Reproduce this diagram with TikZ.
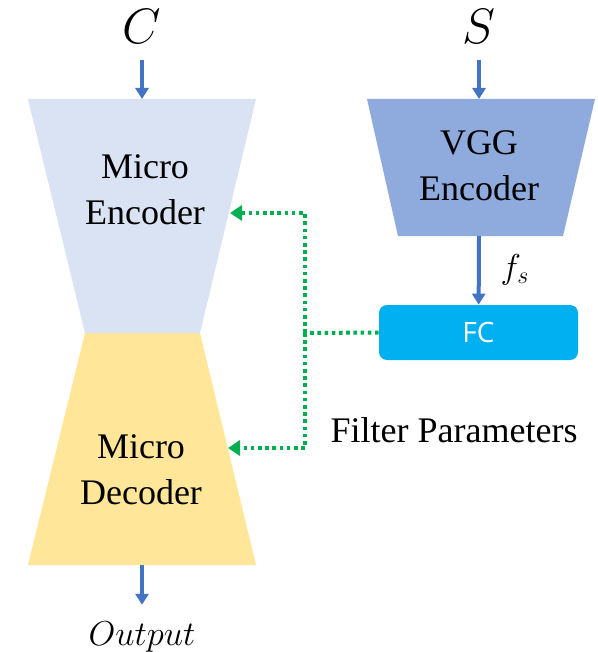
\documentclass[tikz,border=0pt]{standalone}
\usepackage{fontspec}
\setmainfont{Liberation Serif}
\newfontfamily\fcfont{Open Sans}
\usetikzlibrary{arrows.meta}
\definecolor{encblue}{HTML}{DAE3F3}
\definecolor{decgold}{HTML}{FFE699}
\definecolor{vggblue}{HTML}{8FAADC}
\definecolor{fccyan}{HTML}{00B0F0}
\definecolor{flowblue}{HTML}{4472C4}
\definecolor{paramgreen}{HTML}{00B050}
\begin{document}
\begin{tikzpicture}[x=0.5pt, y=-0.5pt,
  blocktext/.style={align=center, font=\fontsize{18}{23}\selectfont},
  flow/.style={draw=flowblue, line width=2pt, -{Triangle[width=6.5pt,length=5.5pt]}},
  param/.style={draw=paramgreen, line width=2pt, dash pattern=on 1.8pt off 1.8pt},
  fcbox/.style={fill=fccyan, rounded corners=4pt, minimum width=99.5pt, minimum height=27.5pt,
    inner sep=0pt, text=white, font=\fcfont\fontsize{14}{16}\selectfont}]
  \useasboundingbox [fill=white] (0,0) rectangle (598,652);
  % blocks
  \fill [encblue] (28,99) -- (256,99) -- (200,333) -- (85,333) -- cycle;
  \fill [decgold] (85,333) -- (200,333) -- (256,565) -- (28,565) -- cycle;
  \fill [vggblue] (367,99) -- (595,99) -- (563,236) -- (398,236) -- cycle;
  \coordinate (enctop) at (142,99);
  \coordinate (decbot) at (142,565);
  \coordinate (vggtop) at (479,99);
  \coordinate (vggbot) at (479,236);
  \node [blocktext] (enc) at (145,190) {Micro\\Encoder};
  \node [blocktext] (dec) at (141,470) {Micro\\Decoder};
  \node [blocktext] (vgg) at (479,166) {VGG\\Encoder};
  \node [fcbox] (fc) at (478.5,332.5) {FC};
  % inputs and output
  \node [font=\fontsize{23}{26}\selectfont] (C) at (142,27) {$C$};
  \node [font=\fontsize{23}{26}\selectfont] (S) at (479,27) {$S$};
  \node [font=\fontsize{16.5}{19}\selectfont] (out) at (142,637) {$Output$};
  \node [font=\fontsize{18.5}{21}\selectfont] (fs) at (515,270) {$f_s$};
  \draw [flow, shorten <=4.5pt] (C) -- (enctop);
  \draw [flow, shorten <=4.5pt] (S) -- (vggtop);
  \draw [flow] (vggbot) -- (fc);
  \draw [flow, shorten >=5pt] (decbot) -- (out);
  % filter parameters
  \coordinate (junc) at (305,333);
  \coordinate (enctip) at (230,213);
  \coordinate (dectip) at (228,448);
  \draw [param] (fc.west) -- (junc);
  \draw [param, -{Triangle[width=7.5pt,length=6pt]}] (junc) |- (enctip);
  \draw [param, -{Triangle[width=7.5pt,length=6pt]}] (junc) |- (dectip);
  \node [blocktext] (filt) at (454,430) {Filter Parameters};
\end{tikzpicture}
\end{document}
